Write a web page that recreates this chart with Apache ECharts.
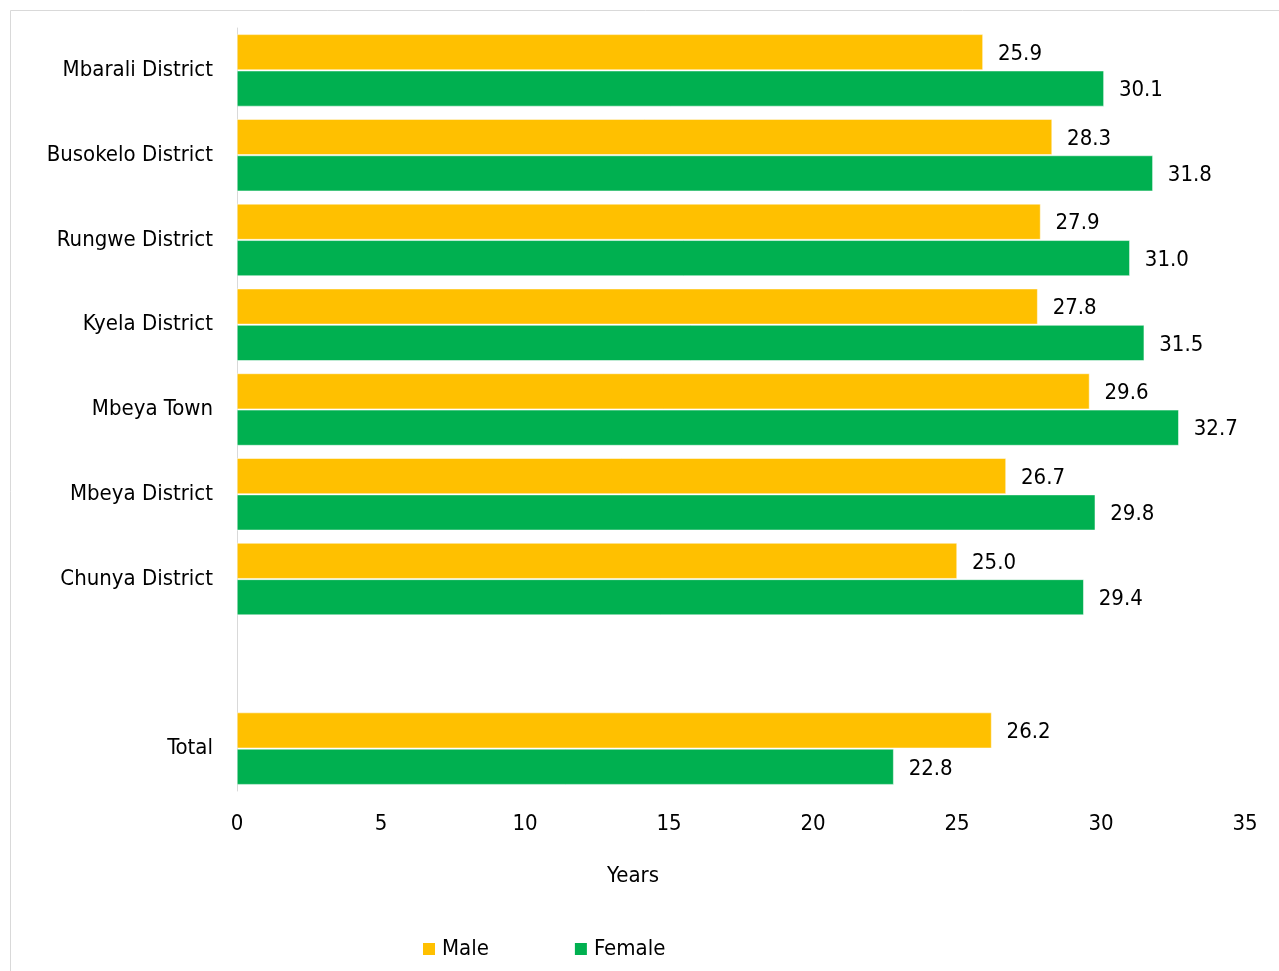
<!DOCTYPE html>
<html>
<head>
<meta charset="utf-8">
<script src="https://cdn.jsdelivr.net/npm/echarts@6/dist/echarts.min.js"></script>
<style>
html,body{margin:0;padding:0;background:#fff;}
#chart{width:1279px;height:971px;}
</style>
</head>
<body>
<div id="chart"></div>
<script>
const categories = ['Mbarali District','Busokelo District','Rungwe District','Kyela District','Mbeya Town','Mbeya District','Chunya District','','Total'];
const maleValues = [25.9, 28.3, 27.9, 27.8, 29.6, 26.7, 25.0, null, 26.2];
const femaleValues = [30.1, 31.8, 31.0, 31.5, 32.7, 29.8, 29.4, null, 22.8];
const xTicks = [0, 5, 10, 15, 20, 25, 30, 35];
const axisTitle = 'Years';
const seriesNames = ['Male', 'Female'];

const FONT = '"Liberation Sans Narrow", "Arial Narrow", "DejaVu Sans Condensed", sans-serif';
const chart = echarts.init(document.getElementById('chart'), null, {renderer: 'canvas'});
const labelOpt = {
  show: true, position: 'right', distance: 15,
  fontFamily: FONT, fontSize: 22, color: '#000',
  formatter: p => (p.value == null ? '' : Number(p.value).toFixed(1))
};
chart.setOption({
  backgroundColor: '#fff',
  animation: false,
  textStyle: {fontFamily: FONT},
  graphic: [
    {type: 'rect', shape: {x: 10.5, y: 10.5, width: 1300, height: 1000}, style: {fill: 'none', stroke: '#d9d9d9', lineWidth: 1}, silent: true, z: -1},
    {type: 'text', x: 633, y: 876, style: {text: axisTitle, fontFamily: FONT, fontSize: 22, fill: '#000', align: 'center', verticalAlign: 'middle'}}
  ],
  legend: {
    left: 416, top: 933,
    itemWidth: 14, itemHeight: 14, itemGap: 84,
    icon: 'rect',
    textStyle: {fontFamily: FONT, fontSize: 22, color: '#000', padding: [0,0,0,1]},
    data: seriesNames
  },
  grid: {left: 237, right: 34, top: 28, bottom: 180, containLabel: false},
  xAxis: {
    type: 'value', min: xTicks[0], max: xTicks[xTicks.length-1], interval: 5,
    splitLine: {show: false},
    axisLine: {show: false}, axisTick: {show: false},
    axisLabel: {fontFamily: FONT, fontSize: 22, color: '#000', margin: 22}
  },
  yAxis: {
    type: 'category', data: categories, inverse: true,
    axisLine: {show: true, lineStyle: {color: '#d9d9d9', width: 1}},
    axisTick: {show: false},
    axisLabel: {fontFamily: FONT, fontSize: 22, color: '#000', margin: 24}
  },
  series: [
    {name: seriesNames[0], type: 'bar', data: maleValues, barGap: '2%', barCategoryGap: '15%',
     itemStyle: {color: '#FFC000', borderColor: '#ffffff', borderWidth: 0.5},
     label: Object.assign({}, labelOpt, {offset: [0, 2]})},
    {name: seriesNames[1], type: 'bar', data: femaleValues, barGap: '2%', barCategoryGap: '15%',
     itemStyle: {color: '#00B050', borderColor: '#ffffff', borderWidth: 0.5},
     label: Object.assign({}, labelOpt, {offset: [0, 2]})}
  ]
});
</script>
</body>
</html>
